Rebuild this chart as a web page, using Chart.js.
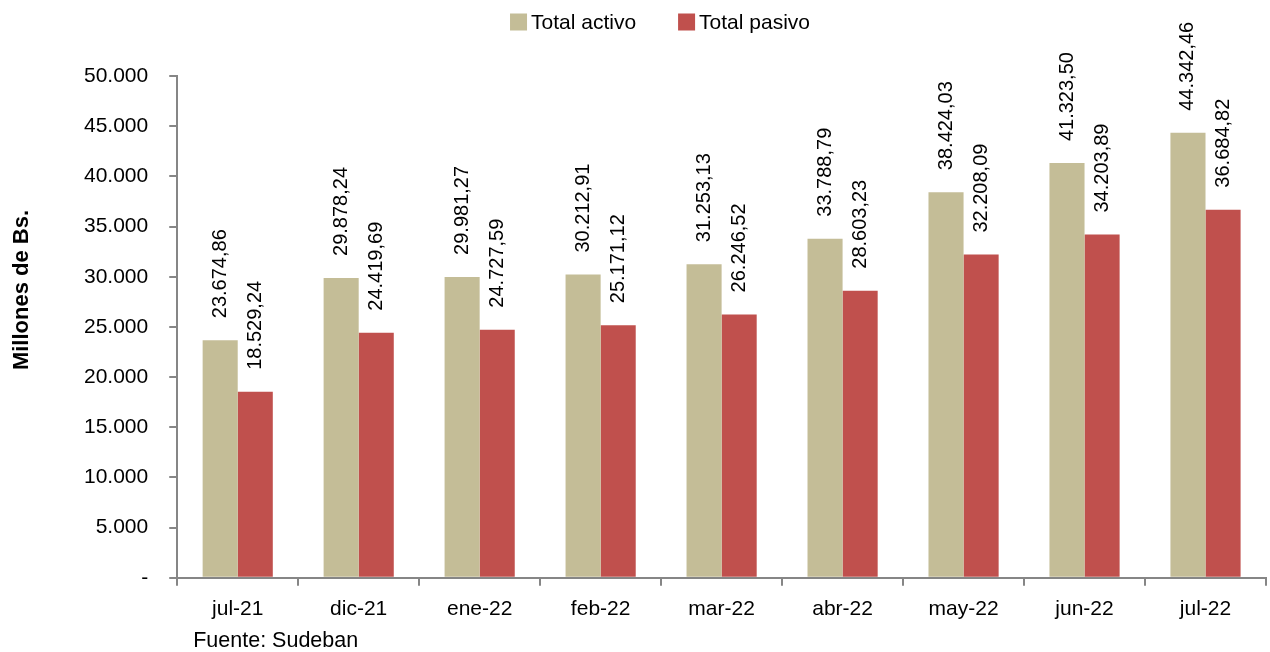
<!DOCTYPE html>
<html>
<head>
<meta charset="utf-8">
<script src="https://cdn.jsdelivr.net/npm/chart.js@4.4.0/dist/chart.umd.min.js"></script>
<style>
  html, body { margin: 0; padding: 0; background: #fff; }
  #wrap { width: 1270px; height: 652px; }
</style>
</head>
<body>
<div id="wrap"><canvas id="chart" width="1270" height="652"></canvas></div>
<script>
// Data
const categories = ['jul-21', 'dic-21', 'ene-22', 'feb-22', 'mar-22', 'abr-22', 'may-22', 'jun-22', 'jul-22'];
const totalActivo = [23674.86, 29878.24, 29981.27, 30212.91, 31253.13, 33788.79, 38424.03, 41323.50, 44342.46];
const totalPasivo = [18529.24, 24419.69, 24727.59, 25171.12, 26246.52, 28603.23, 32208.09, 34203.89, 36684.82];
const yTicks = [0, 5000, 10000, 15000, 20000, 25000, 30000, 35000, 40000, 45000, 50000];

const FONT = '"Liberation Sans", Arial, sans-serif';
const axisColor = '#868686';

// 44342.46 -> "44.342,46"
function fmtNum(v, dec) {
    const parts = v.toFixed(dec).split('.');
    const intPart = parts[0].replace(/\B(?=(\d{3})+(?!\d))/g, '.');
    return dec > 0 ? intPart + ',' + parts[1] : intPart;
}

// Legend drawn by hand (tight box/text gap like the original)
const topLegend = {
    id: 'topLegend',
    afterDraw(chart) {
        const ctx = chart.ctx;
        const box = 17, gap = 4, itemGap = 42, cy = 22;
        ctx.save();
        ctx.font = '21px ' + FONT;
        ctx.textBaseline = 'middle';
        ctx.textAlign = 'left';
        const items = chart.data.datasets.map(ds => ({ text: ds.label, color: ds.backgroundColor, w: ctx.measureText(ds.label).width }));
        let total = 0;
        items.forEach((it, i) => { total += box + gap + it.w + (i > 0 ? itemGap : 0); });
        let x = 660 - total / 2;
        items.forEach(it => {
            ctx.fillStyle = it.color;
            ctx.fillRect(x, cy - box / 2, box, box);
            ctx.fillStyle = '#000';
            ctx.fillText(it.text, x + box + gap, cy + 1);
            x += box + gap + it.w + itemGap;
        });
        ctx.restore();
    }
};

// Rotated value labels above each bar
const barLabels = {
    id: 'barLabels',
    afterDatasetsDraw(chart) {
        const ctx = chart.ctx;
        ctx.save();
        ctx.font = '20px ' + FONT;
        ctx.fillStyle = '#000';
        ctx.textAlign = 'left';
        ctx.textBaseline = 'middle';
        chart.data.datasets.forEach((ds, i) => {
            chart.getDatasetMeta(i).data.forEach((bar, j) => {
                ctx.save();
                ctx.translate(bar.x, bar.y - 22);
                ctx.rotate(-Math.PI / 2);
                ctx.fillText(fmtNum(ds.data[j], 2), 0, 0);
                ctx.restore();
            });
        });
        ctx.restore();
    }
};

// Y title and source note
const extraText = {
    id: 'extraText',
    afterDraw(chart) {
        const ctx = chart.ctx;
        ctx.save();
        ctx.fillStyle = '#000';
        ctx.font = 'bold 22px ' + FONT;
        ctx.textAlign = 'center';
        ctx.textBaseline = 'middle';
        ctx.translate(22, 290);
        ctx.rotate(-Math.PI / 2);
        ctx.fillText('Millones de Bs.', 0, 0);
        ctx.restore();

        ctx.save();
        ctx.font = '21.5px ' + FONT;
        ctx.fillStyle = '#000';
        ctx.textAlign = 'left';
        ctx.textBaseline = 'middle';
        ctx.fillText('Fuente: Sudeban', chart.chartArea.left + 16, 641);
        ctx.restore();
    }
};

new Chart(document.getElementById('chart'), {
    type: 'bar',
    data: {
        labels: categories,
        datasets: [{
            label: 'Total activo',
            data: totalActivo,
            backgroundColor: '#C4BD97',
            categoryPercentage: 0.58,
            barPercentage: 1.0
        }, {
            label: 'Total pasivo',
            data: totalPasivo,
            backgroundColor: '#C0504D',
            categoryPercentage: 0.58,
            barPercentage: 1.0
        }]
    },
    options: {
        responsive: false,
        animation: false,
        layout: { padding: { top: 76, right: 4, bottom: 19, left: 63 } },
        plugins: {
            legend: { display: false },
            tooltip: { enabled: false }
        },
        scales: {
            x: {
                grid: {
                    display: true,
                    offset: true,
                    drawOnChartArea: false,
                    color: axisColor,
                    tickLength: 8,
                    lineWidth: 2
                },
                border: { color: axisColor, width: 2 },
                ticks: {
                    font: { family: FONT, size: 21 },
                    color: '#000',
                    padding: 11
                }
            },
            y: {
                min: 0,
                max: 50000,
                afterBuildTicks(axis) {
                    axis.ticks = yTicks.map(v => ({ value: v }));
                },
                grid: {
                    display: true,
                    drawOnChartArea: false,
                    color: axisColor,
                    tickLength: 8,
                    lineWidth: 2
                },
                border: { color: axisColor, width: 2 },
                ticks: {
                    font: { family: FONT, size: 21 },
                    color: '#000',
                    padding: 21,
                    callback: v => v === 0 ? '-' : fmtNum(v, 0)
                }
            }
        }
    },
    plugins: [topLegend, barLabels, extraText]
});
</script>
</body>
</html>
